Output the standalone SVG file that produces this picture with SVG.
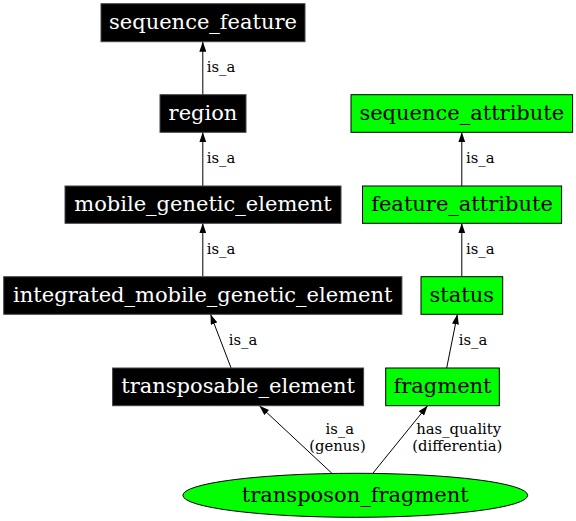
<svg xmlns="http://www.w3.org/2000/svg" width="576" height="521" viewBox="0 0 576 521">
<style>
.nb rect{fill:#000;stroke:#444;stroke-width:1}
.ng rect,.ng ellipse{fill:#00ff00;stroke:#000;stroke-width:1}
.nb text{fill:#fff}
.ng text{fill:#000}
text{font-family:"DejaVu Serif",serif;}
.nt{font-size:21px;text-anchor:middle}
.el{font-size:14.8px;fill:#000}
.ec{text-anchor:middle}
#edges line{stroke:#000;stroke-width:1}
</style>
<defs>
<marker id="ah" viewBox="0 0 10 7" refX="10" refY="3.5" markerWidth="10" markerHeight="7" markerUnits="userSpaceOnUse" orient="auto">
<path d="M0,0 L10,3.5 L0,7 Z" fill="#000"/>
</marker>
</defs>
<rect width="576" height="521" fill="#fff"/>
<g id="edges">
<line x1="202.8" y1="94.7" x2="202.8" y2="41.7" marker-end="url(#ah)"/>
<text class="el" x="206.8" y="72">is_a</text>
<line x1="202.8" y1="186" x2="202.8" y2="132.3" marker-end="url(#ah)"/>
<text class="el" x="206.8" y="163">is_a</text>
<line x1="202.8" y1="276.7" x2="202.8" y2="223.3" marker-end="url(#ah)"/>
<text class="el" x="206.8" y="254">is_a</text>
<line x1="461.8" y1="186" x2="461.8" y2="132.3" marker-end="url(#ah)"/>
<text class="el" x="466" y="163">is_a</text>
<line x1="461.8" y1="276.7" x2="461.8" y2="223.3" marker-end="url(#ah)"/>
<text class="el" x="466" y="254">is_a</text>
<line x1="231.1" y1="368" x2="210.5" y2="314.3" marker-end="url(#ah)"/>
<text class="el" x="228.7" y="345">is_a</text>
<line x1="446.7" y1="368" x2="457.4" y2="314.3" marker-end="url(#ah)"/>
<text class="el" x="458.7" y="345">is_a</text>
<line x1="331.9" y1="473.3" x2="259.4" y2="405.7" marker-end="url(#ah)"/>
<text class="el ec" x="339.8" y="433.5">is_a</text>
<text class="el ec" x="337.5" y="451">(genus)</text>
<line x1="372.8" y1="473.3" x2="427.6" y2="405.7" marker-end="url(#ah)"/>
<text class="el ec" x="458.7" y="433.5">has_quality</text>
<text class="el ec" x="457.3" y="451">(differentia)</text>
</g>
<g id="sequence_feature" class="nb"><rect x="101" y="3.7" width="204" height="38"/><text class="nt" x="203" y="29">sequence_feature</text></g>
<g id="region" class="nb"><rect x="160" y="94.7" width="86" height="37.6"/><text class="nt" x="203" y="120">region</text></g>
<g id="mobile_genetic_element" class="nb"><rect x="65" y="186" width="276" height="37.3"/><text class="nt" x="203" y="211">mobile_genetic_element</text></g>
<g id="integrated_mobile_genetic_element" class="nb"><rect x="3.7" y="276.7" width="398.2" height="37.6"/><text class="nt" x="202.8" y="302">integrated_mobile_genetic_element</text></g>
<g id="transposable_element" class="nb"><rect x="112.6" y="368" width="251" height="37.7"/><text class="nt" x="238.1" y="393">transposable_element</text></g>
<g id="sequence_attribute" class="ng"><rect x="351" y="94.7" width="221.6" height="37.6"/><text class="nt" x="461.8" y="120">sequence_attribute</text></g>
<g id="feature_attribute" class="ng"><rect x="362.5" y="186" width="199.1" height="37.3"/><text class="nt" x="462" y="211">feature_attribute</text></g>
<g id="status" class="ng"><rect x="421" y="276.7" width="81.7" height="37.6"/><text class="nt" x="461.8" y="302">status</text></g>
<g id="fragment" class="ng"><rect x="385.7" y="368" width="113.6" height="37.7"/><text class="nt" x="442.5" y="393">fragment</text></g>
<g id="transposon_fragment" class="ng"><ellipse cx="355.3" cy="495.3" rx="172.4" ry="22"/><text class="nt" x="355.3" y="501.5">transposon_fragment</text></g>
</svg>
